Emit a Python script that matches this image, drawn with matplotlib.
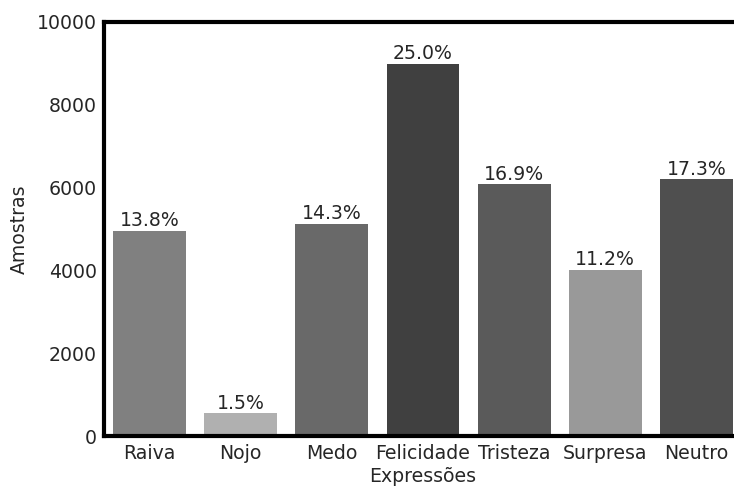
import matplotlib.pyplot as plt

# FER-style class counts
labels = ['Raiva', 'Nojo', 'Medo', 'Felicidade', 'Tristeza', 'Surpresa', 'Neutro']
counts = [4953, 547, 5121, 8989, 6077, 4002, 6198]
colors = ['#808080', '#b0b0b0', '#696969', '#404040', '#5a5a5a', '#999999', '#4f4f4f']

total = sum(counts)
fs = 13.6

plt.rcParams['font.family'] = 'DejaVu Sans'
plt.rcParams['text.color'] = '#262626'
plt.rcParams['axes.labelcolor'] = '#262626'
plt.rcParams['xtick.color'] = '#262626'
plt.rcParams['ytick.color'] = '#262626'

fig = plt.figure(figsize=(7.34, 4.87), dpi=100)
# axes runs past the right edge of the figure, as in the original crop
ax = fig.add_axes([104 / 734, 51 / 487, 638 / 734, 414 / 487])

x = range(len(labels))
bars = ax.bar(x, counts, width=0.8, color=colors)

for b, c in zip(bars, counts):
    ax.text(b.get_x() + b.get_width() / 2, c + 20, f'{100 * c / total:.1f}%',
            ha='center', va='bottom', fontsize=fs)

ax.set_xticks(list(x))
ax.set_xticklabels(labels, fontsize=fs)
ax.set_xlim(-0.5, len(labels) - 0.5)
ax.set_ylim(0, 10000)
ax.set_yticks([0, 2000, 4000, 6000, 8000, 10000])
ax.tick_params(axis='y', labelsize=fs, length=0, pad=5)
ax.tick_params(axis='x', length=0, pad=6)
ax.set_xlabel('Expressões', fontsize=fs, labelpad=3)
ax.set_ylabel('Amostras', fontsize=fs, labelpad=6)

for s in ax.spines.values():
    s.set_linewidth(3)
    s.set_color('black')

fig.savefig('out.png', dpi=100)
